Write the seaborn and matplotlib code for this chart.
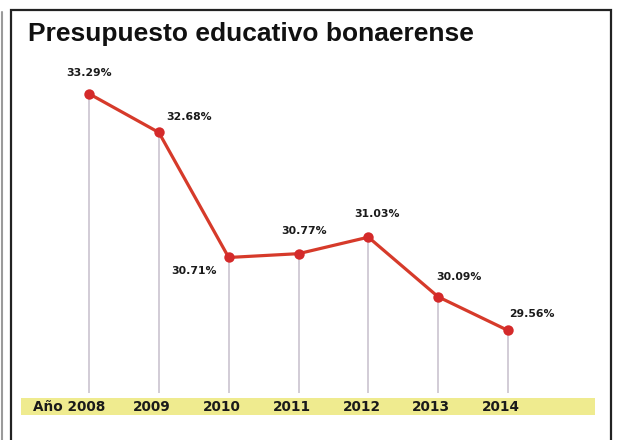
import matplotlib
matplotlib.use("Agg")
import matplotlib.pyplot as plt
from matplotlib.patches import Rectangle
from matplotlib.transforms import blended_transform_factory
import pandas as pd
import seaborn as sns

years = [2008, 2009, 2010, 2011, 2012, 2013, 2014]
shares = [33.29, 32.68, 30.71, 30.77, 31.03, 30.09, 29.56]
share_labels = ["33.29%", "32.68%", "30.71%", "30.77%", "31.03%", "30.09%", "29.56%"]
year_labels = ["Año 2008", "2009", "2010", "2011", "2012", "2013", "2014"]

# label offsets (points) relative to each marker
label_dx = [0, 22, -25, 4, 6, 15, 17]
label_dy = [15, 11, -10, 16, 17, 14, 12]

sns.set_theme(style="white")
plt.rcParams["font.family"] = ["DejaVu Sans"]

df = pd.DataFrame({"year": years, "share": shares})

fig = plt.figure(figsize=(6.23, 4.40), dpi=100)
ax = fig.add_axes([0, 0, 1, 1])
ax.set_xlim(2006.725, 2015.647)
ax.set_ylim(27.834, 34.767)
ax.axis("off")

# stems down to the year band
ax.vlines(df["year"], 28.574, df["share"], color="#cbc4cf", lw=1.2, zorder=1)

sns.lineplot(data=df, x="year", y="share", ax=ax, color="#d63a2a", lw=2.3,
             marker="o", markersize=7.5, markeredgewidth=0,
             markerfacecolor="#d42a2a", zorder=3)

for yr, val, txt, dx, dy in zip(years, shares, share_labels, label_dx, label_dy):
    ax.annotate(txt, (yr, val), xytext=(dx, dy), textcoords="offset points",
                ha="center", va="center", fontsize=7.8, fontweight="bold",
                color="#1a1a1a")

# yellow year band
fig.add_artist(Rectangle((21 / 623, 1 - 415 / 440), (595 - 21) / 623, 17 / 440,
                         transform=fig.transFigure, facecolor="#efeb8f",
                         edgecolor="none", zorder=0))

trans = blended_transform_factory(ax.transData, ax.transAxes)
for yr, txt in zip(years, year_labels):
    ha = "right" if txt.startswith("Año") else "center"
    dx = 12 if ha == "right" else -5
    ax.annotate(txt, (yr, 1 - 407 / 440), xycoords=trans, xytext=(dx, 0),
                textcoords="offset points", ha=ha, va="center",
                fontsize=9.8, fontweight="bold", color="#1a1a1a")

# outer frame
fig.add_artist(Rectangle((11 / 623, -0.05), 600 / 623, 1.05 - 10 / 440,
                         transform=fig.transFigure, facecolor="none",
                         edgecolor="#222222", lw=1.6))
fig.add_artist(plt.Line2D([2 / 623, 2 / 623], [0, 1 - 12 / 440],
                          transform=fig.transFigure, color="#9a9a9a", lw=1.5))

fig.text(28 / 623, 1 - 41 / 440, "Presupuesto educativo bonaerense",
         fontsize=19, fontweight="bold", va="baseline", ha="left",
         family=["Liberation Sans", "DejaVu Sans"], color="#111111")

fig.savefig("out.png", dpi=100, facecolor="white")
